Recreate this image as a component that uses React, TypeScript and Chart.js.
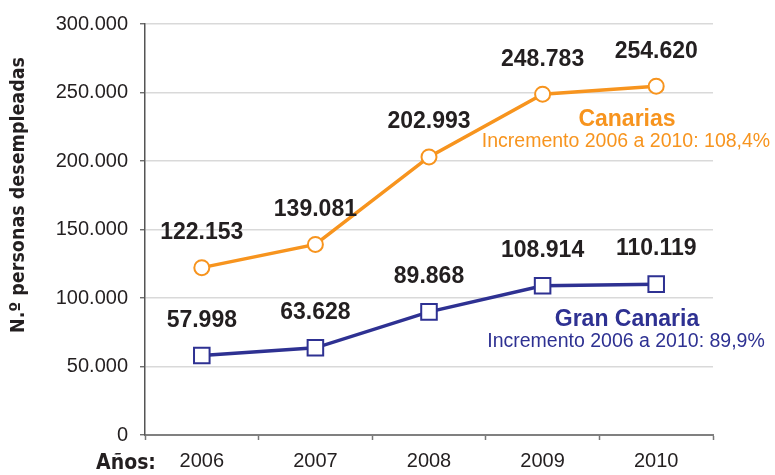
import React, { useEffect, useRef } from "react";
import { Chart, registerables } from "chart.js";

Chart.register(...registerables);

const years = ["2006", "2007", "2008", "2009", "2010"];
const canarias = [122153, 139081, 202993, 248783, 254620];
const granCanaria = [57998, 63628, 89868, 108914, 110119];
const yTicks = [0, 50000, 100000, 150000, 200000, 250000, 300000];
const yTitle = "N.º personas desempleadas";
const xTitle = "Años:";
const notes = [
  { title: "Canarias", text: "Incremento 2006 a 2010: 108,4%" },
  { title: "Gran Canaria", text: "Incremento 2006 a 2010: 89,9%" },
];

const ORANGE = "#F7941E";
const NAVY = "#2E3192";
const NARROW = '"Liberation Sans Narrow", "DejaVu Sans Condensed", "Liberation Sans", Arial, sans-serif';
const SANS = '"Liberation Sans", Arial, sans-serif';

function fmt(v: number): string {
  const s = Math.round(v).toString();
  return s.replace(/\B(?=(\d{3})+(?!\d))/g, ".");
}

const labelsPlugin = {
  id: "labelsPlugin",
  afterDatasetsDraw(chart: any) {
    const ctx = chart.ctx;
    ctx.save();
    ctx.fillStyle = "#231f20";
    ctx.font = `bold 23px ${SANS}`;
    ctx.textAlign = "center";
    ctx.textBaseline = "middle";
    chart.data.datasets.forEach((ds: any, i: number) => {
      const meta = chart.getDatasetMeta(i);
      meta.data.forEach((pt: any, j: number) => {
        ctx.fillText(fmt(ds.data[j]), pt.x, pt.y - 35);
      });
    });
    // annotations
    const cols = [ORANGE, NAVY];
    const ys = [120, 320];
    notes.forEach((n, i) => {
      ctx.fillStyle = cols[i];
      ctx.font = `bold 23px ${SANS}`;
      ctx.fillText(n.title, 627, ys[i]);
      ctx.font = `19.5px ${SANS}`;
      ctx.fillText(n.text, 626, ys[i] + 22);
    });
    // axis titles
    ctx.fillStyle = "#231f20";
    ctx.font = `bold 21px ${NARROW}`;
    ctx.fillText(xTitle, 126, 464);
    ctx.font = `bold 19.5px ${NARROW}`;
    ctx.translate(19, 195);
    ctx.rotate(-Math.PI / 2);
    ctx.fillText(yTitle, 0, 0);
    ctx.restore();
  },
};

export default function App() {
  const ref = useRef<HTMLCanvasElement>(null);
  useEffect(() => {
    if (!ref.current) return;
    const chart = new Chart(ref.current, {
      type: "line",
      data: {
        labels: years,
        datasets: [
          {
            label: "Canarias",
            data: canarias,
            borderColor: ORANGE,
            backgroundColor: "#ffffff",
            borderWidth: 3.5,
            pointStyle: "circle",
            pointRadius: 7.5,
            pointBorderWidth: 2,
            pointBackgroundColor: "#ffffff",
            pointBorderColor: ORANGE,
            tension: 0,
          },
          {
            label: "Gran Canaria",
            data: granCanaria,
            borderColor: NAVY,
            backgroundColor: "#ffffff",
            borderWidth: 3.5,
            pointStyle: "rect",
            pointRadius: 11,
            pointBorderWidth: 2,
            pointBackgroundColor: "#ffffff",
            pointBorderColor: NAVY,
            tension: 0,
          },
        ],
      },
      options: {
        animation: false,
        responsive: false,
        maintainAspectRatio: false,
        layout: { padding: { top: 20, right: 62, left: 0, bottom: 0 } },
        plugins: { legend: { display: false }, tooltip: { enabled: false } },
        scales: {
          x: {
            type: "category",
            offset: true,
            grid: {
              offset: true,
              drawOnChartArea: false,
              drawTicks: true,
              tickLength: 5,
              tickColor: "#777",
              tickWidth: 1.5,
            },
            border: { color: "#808080", width: 2 },
            ticks: { color: "#231f20", font: { size: 20, family: SANS }, padding: 9 },
            afterFit: (s: any) => {
              s.height = 40;
            },
          },
          y: {
            min: 0,
            max: 300000,
            afterBuildTicks: (s: any) => {
              s.ticks = yTicks.map((v) => ({ value: v }));
            },
            grid: {
              color: "#d9d9d9",
              lineWidth: 1.5,
              tickLength: 5,
              tickColor: "#555",
              tickWidth: 1.2,
            },
            border: { color: "#555", width: 1.5 },
            ticks: {
              color: "#231f20",
              font: { size: 20, family: SANS },
              padding: 12,
              callback: (v: any) => fmt(Number(v)),
            },
            afterFit: (s: any) => {
              s.width = 145;
            },
          },
        },
      },
      plugins: [labelsPlugin],
    } as any);
    return () => chart.destroy();
  }, []);
  return (
    <div style={{ position: "fixed", left: 0, top: 0, width: 775, height: 475, background: "#fff" }}>
      <canvas ref={ref} width={775} height={475} style={{ width: 775, height: 475 }} />
    </div>
  );
}
